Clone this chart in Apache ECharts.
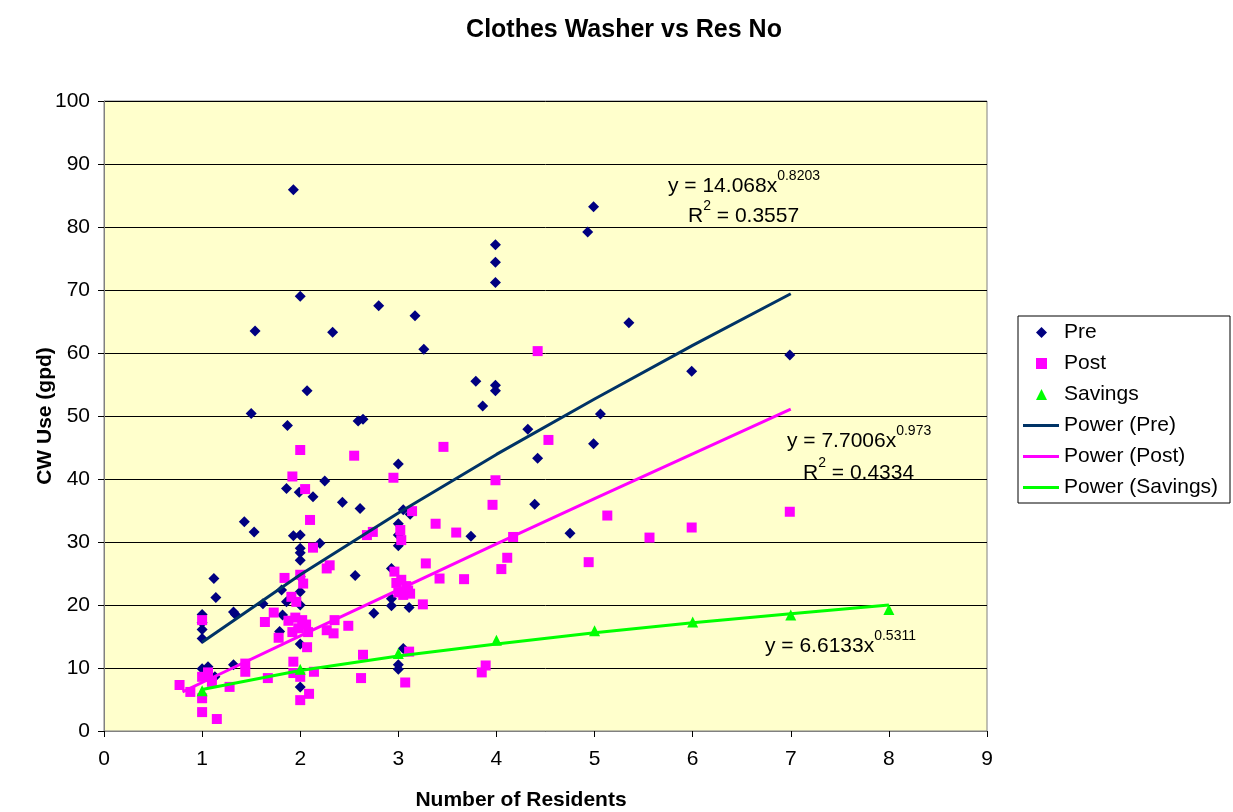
<!DOCTYPE html>
<html>
<head>
<meta charset="utf-8">
<script src="https://cdn.jsdelivr.net/npm/echarts@6/dist/echarts.min.js"></script>
<style>html,body{margin:0;padding:0;background:#fff;}#c{width:1233px;height:812px;}</style>
</head>
<body>
<div id="c"></div>
<script>
// ---- data ----
const xTicks = [0,1,2,3,4,5,6,7,8,9];
const yTicks = [0,10,20,30,40,50,60,70,80,90,100];

const preData = [
 [1.0,18.5],[1.0,17.2],[1.0,16.1],[1.0,14.7],[1.0,9.9],[1.06,10.2],[1.13,8.6],[1.12,24.2],[1.14,21.2],
 [1.32,18.9],[1.34,18.5],[1.32,10.5],[1.43,33.2],[1.53,31.6],[1.50,50.4],[1.54,63.5],[1.62,20.2],
 [1.79,15.8],[1.81,22.4],[1.82,18.4],[1.86,20.5],[1.86,38.5],[1.87,48.5],[1.93,85.9],[1.93,31.0],
 [1.99,37.9],[2.0,69.0],[2.0,31.1],[2.0,29.0],[2.0,28.3],[2.0,27.1],[2.0,24.5],[2.0,22.1],[2.0,20.0],
 [2.0,13.8],[2.0,7.0],[2.07,54.0],[2.13,37.2],[2.2,29.8],[2.25,39.7],[2.33,63.3],[2.43,36.3],
 [2.56,24.7],[2.59,49.2],[2.61,35.3],[2.64,49.5],[2.75,18.7],[2.80,67.5],[2.93,25.8],[2.93,21.0],
 [2.93,19.9],[3.0,42.4],[3.0,32.9],[3.0,31.1],[3.0,29.4],[3.0,10.5],[3.0,9.8],[3.05,35.1],[3.05,13.1],
 [3.11,19.6],[3.12,34.4],[3.17,65.9],[3.26,60.6],[3.74,30.9],[3.79,55.5],[3.86,51.6],[3.99,77.2],
 [3.99,74.4],[3.99,71.2],[3.99,54.9],[3.99,54.0],[4.32,47.9],[4.39,36.0],[4.42,43.3],[4.75,31.4],
 [4.93,79.2],[4.99,83.2],[4.99,45.6],[5.06,50.3],[5.35,64.8],[5.99,57.1],[6.99,59.7]
];

const postData = [
 [0.77,7.3],[0.88,6.2],[1.0,5.2],[1.0,3.0],[1.15,1.9],[1.0,8.6],[1.06,9.3],[1.0,17.6],[1.1,7.8],
 [1.28,7.0],[1.44,10.7],[1.44,9.4],[1.64,17.3],[1.67,8.4],[1.73,18.8],[1.78,14.8],[1.84,24.3],
 [1.88,17.5],[1.91,21.3],[1.92,40.4],[1.92,15.7],[1.93,11.0],[1.93,9.2],[1.95,18.0],[1.96,20.5],
 [1.98,16.3],[2.0,44.6],[2.0,24.8],[2.0,8.6],[2.0,4.9],[2.02,17.6],[2.03,23.4],[2.05,38.4],[2.06,16.9],
 [2.07,13.3],[2.08,15.7],[2.09,5.9],[2.10,33.5],[2.13,29.1],[2.14,9.4],[2.27,16.0],[2.27,25.8],
 [2.30,26.3],[2.34,15.5],[2.35,17.6],[2.49,16.7],[2.55,43.7],[2.62,8.4],[2.64,12.1],[2.68,31.1],
 [2.74,31.6],[2.95,40.2],[2.96,25.3],[2.98,23.5],[3.0,22.0],[3.02,31.9],[3.03,30.3],[3.03,24.0],
 [3.05,21.6],[3.07,7.7],[3.08,23.0],[3.1,22.3],[3.11,12.6],[3.12,21.8],[3.14,34.9],[3.25,20.1],
 [3.28,26.6],[3.38,32.9],[3.42,24.2],[3.46,45.1],[3.59,31.5],[3.67,24.1],[3.85,9.3],[3.89,10.4],
 [3.96,35.9],[3.99,39.8],[4.05,25.7],[4.11,27.5],[4.17,30.8],[4.42,60.3],[4.53,46.2],[4.94,26.8],
 [5.13,34.2],[5.56,30.7],[5.99,32.3],[6.99,34.8]
];

const savingsData = [[1,6.4],[2,9.8],[3,12.3],[4,14.4],[5,15.9],[6,17.3],[7,18.4],[8,19.3]];

// trend lines
const preTrend = [[1,14.1],[2,24.8],[3,34.6],[4,43.9],[5,52.7],[6,61.2],[7,69.4]];
const postTrend = [[0.8,6.2],[1,7.7],[2,15.1],[3,22.4],[4,29.7],[5,36.9],[6,44.0],[7,51.1]];
const savingsTrend = [[1,6.6],[2,9.6],[3,11.9],[4,13.8],[5,15.6],[6,17.2],[7,18.6],[8,20.0]];

const FONT = '"Liberation Sans", Arial, sans-serif';
const chart = echarts.init(document.getElementById('c'), null, {renderer: 'canvas'});

const RICH = {
  n: {fontSize: 21, fontFamily: FONT, fill: '#000', color: '#000', lineHeight: 28, verticalAlign: 'bottom'},
  s: {fontSize: 14, fontFamily: FONT, fill: '#000', color: '#000', lineHeight: 12, verticalAlign: 'top'}
};
function eq(main, sup, x, y) {
  return {type: 'text', x: x, y: y, z: 50,
    style: {text: '{n|' + main + '}{s|' + sup + '}', textVerticalAlign: 'middle', textAlign: 'left', rich: RICH}};
}
function r2(val, x, y) {
  return {type: 'text', x: x, y: y, z: 50,
    style: {text: '{n|R}{s|2}{n| = ' + val + '}', textVerticalAlign: 'middle', textAlign: 'left', rich: RICH}};
}

const legendText = {fontFamily: FONT, fontSize: 21, color: '#000', lineHeight: 21};

const option = {
  backgroundColor: '#ffffff',
  animation: false,
  title: {
    text: 'Clothes Washer vs Res No',
    left: 619, top: 13, textAlign: 'center',
    textStyle: {fontFamily: FONT, fontWeight: 'bold', fontSize: 25, color: '#000'}
  },
  grid: {
    left: 104, right: 246, top: 101, bottom: 81,
    show: true, backgroundColor: '#FFFFCC', borderColor: '#808080', borderWidth: 1
  },
  xAxis: {
    type: 'value', min: 0, max: 9, interval: 1,
    axisLine: {show: true, lineStyle: {color: '#808080', width: 1}},
    axisTick: {show: true, length: 6, lineStyle: {color: '#000'}},
    axisLabel: {fontFamily: FONT, fontSize: 21, color: '#000', margin: 18,
      formatter: v => xTicks.indexOf(v) >= 0 ? String(v) : ''},
    splitLine: {show: false}
  },
  yAxis: {
    type: 'value', min: 0, max: 100, interval: 10,
    axisLine: {show: true, lineStyle: {color: '#808080', width: 1}},
    axisTick: {show: true, length: 6, lineStyle: {color: '#000'}},
    axisLabel: {fontFamily: FONT, fontSize: 21, color: '#000', margin: 14,
      formatter: v => yTicks.indexOf(v) >= 0 ? String(v) : ''},
    splitLine: {show: true, lineStyle: {color: '#000', width: 1}}
  },
  legend: [
    {
      orient: 'vertical', left: 1036, top: 322, padding: 0,
      itemWidth: 11, itemHeight: 11, itemGap: 10,
      textStyle: Object.assign({padding: [0, 0, 0, 12]}, legendText),
      data: [
        {name: 'Pre', icon: 'diamond'},
        {name: 'Post', icon: 'rect'},
        {name: 'Savings', icon: 'triangle'}
      ]
    },
    {
      orient: 'vertical', left: 1023, top: 415, padding: 0,
      itemWidth: 36, itemHeight: 3, itemGap: 10,
      textStyle: legendText,
      data: [
        {name: 'Power (Pre)', icon: 'rect'},
        {name: 'Power (Post)', icon: 'rect'},
        {name: 'Power (Savings)', icon: 'rect'}
      ]
    }
  ],
  graphic: [
    {type: 'rect', shape: {x: 1018, y: 316, width: 212, height: 187}, z: -1,
      style: {fill: '#fff', stroke: '#000', lineWidth: 1}},
    {type: 'text', x: 521, y: 800, style: {text: 'Number of Residents', fontFamily: FONT, fontSize: 21,
      fontWeight: 'bold', fill: '#000', textAlign: 'center', textVerticalAlign: 'middle'}},
    {type: 'text', x: 45, y: 416, rotation: Math.PI / 2, style: {text: 'CW Use (gpd)', fontFamily: FONT,
      fontSize: 21, fontWeight: 'bold', fill: '#000', textAlign: 'center', textVerticalAlign: 'middle'}},
    eq('y = 14.068x', '0.8203', 668, 183),
    r2('0.3557', 688, 213),
    eq('y = 7.7006x', '0.973', 787, 438),
    r2('0.4334', 803, 470),
    eq('y = 6.6133x', '0.5311', 765, 643)
  ],
  series: [
    {name: 'Pre', type: 'scatter', data: preData, symbol: 'diamond', symbolSize: 11,
      itemStyle: {color: '#000080', opacity: 1}},
    {name: 'Post', type: 'scatter', data: postData, symbol: 'rect', symbolSize: 10,
      itemStyle: {color: '#FF00FF', opacity: 1}},
    {name: 'Savings', type: 'scatter', data: savingsData, symbol: 'triangle', symbolSize: 11,
      itemStyle: {color: '#00FF00', opacity: 1}},
    {name: 'Power (Pre)', type: 'line', data: preTrend, symbol: 'none', smooth: false,
      lineStyle: {color: '#003366', width: 3}, itemStyle: {color: '#003366'}},
    {name: 'Power (Post)', type: 'line', data: postTrend, symbol: 'none', smooth: false,
      lineStyle: {color: '#FF00FF', width: 3}, itemStyle: {color: '#FF00FF'}},
    {name: 'Power (Savings)', type: 'line', data: savingsTrend, symbol: 'none', smooth: false,
      lineStyle: {color: '#00FF00', width: 3}, itemStyle: {color: '#00FF00'}}
  ]
};
chart.setOption(option);
</script>
</body>
</html>
